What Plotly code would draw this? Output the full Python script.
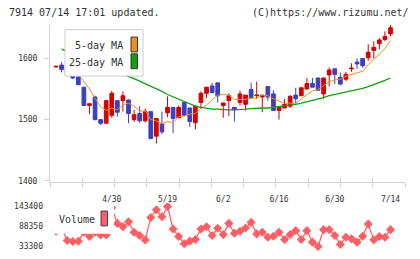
import plotly.graph_objects as go
import numpy as np

# ---------------- data ----------------
tick_labels = ['4/30', '5/19', '6/2', '6/16', '6/30', '7/14']
tick_index = [10, 20, 30, 40, 50, 60]

opens = [1586, 1589, 1586, 1577, 1570, 1553, 1523, 1537, 1500, 1494,
         1507, 1531, 1531, 1532, 1500, 1510, 1498, 1513, 1473, 1493,
         1511, 1520, 1503, 1528, 1519, 1495, 1528, 1543, 1555, 1560,
         1523, 1531, 1520, 1528, 1525, 1549, 1539, 1537, 1554, 1542,
         1515, 1519, 1522, 1540, 1539, 1550, 1559, 1568, 1542, 1573,
         1583, 1569, 1566, 1583, 1594, 1600, 1601, 1613, 1624, 1631,
         1640]
highs = [1588, 1594, 1589, 1583, 1574, 1553, 1526, 1539, 1501, 1531,
         1547, 1531, 1546, 1533, 1516, 1522, 1518, 1513, 1502, 1513,
         1538, 1520, 1523, 1529, 1519, 1522, 1546, 1553, 1560, 1560,
         1528, 1543, 1520, 1547, 1540, 1560, 1562, 1540, 1554, 1548,
         1520, 1534, 1540, 1552, 1552, 1568, 1568, 1568, 1568, 1585,
         1583, 1577, 1578, 1592, 1600, 1600, 1623, 1628, 1633, 1644,
         1655]
lows = [1585, 1577, 1574, 1566, 1557, 1523, 1509, 1499, 1491, 1494,
        1503, 1505, 1513, 1494, 1496, 1495, 1495, 1468, 1461, 1476,
        1504, 1478, 1503, 1505, 1488, 1484, 1518, 1535, 1543, 1528,
        1503, 1506, 1497, 1523, 1515, 1534, 1534, 1512, 1531, 1515,
        1500, 1519, 1519, 1527, 1539, 1550, 1553, 1548, 1534, 1554,
        1558, 1556, 1563, 1578, 1583, 1585, 1596, 1600, 1615, 1628,
        1636]
closes = [1587, 1582, 1575, 1568, 1557, 1523, 1526, 1500, 1494, 1531,
          1543, 1512, 1539, 1510, 1508, 1498, 1513, 1469, 1502, 1480,
          1520, 1502, 1520, 1507, 1497, 1522, 1543, 1553, 1544, 1539,
          1527, 1539, 1516, 1542, 1540, 1536, 1540, 1540, 1537, 1515,
          1520, 1525, 1538, 1534, 1552, 1559, 1553, 1548, 1568, 1581,
          1574, 1558, 1574, 1584, 1591, 1588, 1610, 1618, 1630, 1636,
          1650]

ma5 = [None, None, None, None, 1574, 1562, 1550, 1535, 1521, 1515,
       1519, 1516, 1524, 1527, 1522, 1514, 1514, 1500, 1498, 1493,
       1497, 1495, 1505, 1506, 1509, 1510, 1518, 1524, 1532, 1540,
       1541, 1540, 1533, 1533, 1533, 1535, 1535, 1540, 1539, 1534,
       1530, 1527, 1527, 1526, 1534, 1541, 1547, 1549, 1556, 1562,
       1565, 1566, 1571, 1574, 1576, 1579, 1590, 1598, 1607, 1616,
       1629]
ma25 = [None, 1615, 1611, 1607, 1603, 1599, 1595, 1591, 1587, 1583,
        1580, 1577, 1574, 1571, 1567, 1563, 1559, 1555, 1550, 1546,
        1541, 1537, 1534, 1530, 1526, 1522, 1520, 1518, 1517, 1517,
        1516, 1516, 1516, 1516, 1517, 1518, 1519, 1519, 1519, 1520,
        1521, 1522, 1523, 1525, 1527, 1529, 1532, 1534, 1536, 1539,
        1541, 1543, 1544, 1546, 1549, 1551, 1554, 1557, 1561, 1564,
        1568]
volume = [75000, 84000, 49000, 46200, 47100, 72000, 60000, 72000, 64400, 64400,
          140000, 96600, 87500, 101300, 71800, 62800, 50600, 113100, 134300, 115100,
          143400, 80900, 59900, 39700, 47100, 51700, 81000, 87400, 62700, 82900,
          65400, 96600, 69100, 74600, 83800, 99400, 67300, 71800, 58100, 60800,
          71800, 51700, 65400, 76400, 51700, 76400, 44300, 32400, 79200, 79200,
          62700, 37900, 58100, 53500, 44300, 60800, 94800, 50700, 59900, 58100,
          79200]
price_ticks = [1400, 1500, 1600]
volume_ticks = [33300, 88350, 143400]

# ---------------- styling ----------------
W, H = 420, 259
RED = '#d20000'
BLUE = '#3c3fbe'
ORANGE = '#f0901c'
GREEN = '#10a010'
VOLC = '#ff5f64'
AXC = '#d4d4d4'
TXT = '#333333'
FONT = 'DejaVu Sans Mono'


def px(v):
    return v / W


def py(v):
    return 1 - v / H


xs = list(range(len(opens)))
xr = [-1.08, 62.6]
xdom = [px(50), px(405)]
grid_ticks = list(np.linspace(xr[0], xr[1], 12))

fig = go.Figure()
fig.add_trace(go.Candlestick(
    x=xs, open=opens, high=highs, low=lows, close=closes,
    increasing=dict(line=dict(color=RED, width=1), fillcolor=RED),
    decreasing=dict(line=dict(color=BLUE, width=1), fillcolor=BLUE),
    whiskerwidth=0, showlegend=False, hoverinfo='skip',
    xaxis='x', yaxis='y'))
fig.add_trace(go.Scatter(x=xs, y=ma5, mode='lines',
                         line=dict(color=ORANGE, width=1),
                         showlegend=False, hoverinfo='skip', xaxis='x', yaxis='y'))
fig.add_trace(go.Scatter(x=xs, y=ma25, mode='lines',
                         line=dict(color=GREEN, width=1.3),
                         showlegend=False, hoverinfo='skip', xaxis='x', yaxis='y'))
fig.add_trace(go.Scatter(x=xs, y=volume, mode='lines+markers',
                         line=dict(color=VOLC, width=1.3),
                         marker=dict(symbol='diamond', size=7, color=VOLC),
                         showlegend=False, hoverinfo='skip', xaxis='x4', yaxis='y2'))
# invisible carriers so the overlay axes (labels / inner ticks) get drawn
for ax in ('x2', 'x3'):
    fig.add_trace(go.Scatter(x=[xs[0]], y=[closes[0]], mode='markers',
                             marker=dict(opacity=0, size=1), showlegend=False,
                             hoverinfo='skip', xaxis=ax, yaxis='y'))

shapes = [
    # MA legend box
    dict(type='rect', xref='paper', yref='paper', layer='above',
         x0=px(65), x1=px(143), y0=py(77), y1=py(30),
         fillcolor='white', line=dict(color='#cccccc', width=1)),
    dict(type='rect', xref='paper', yref='paper', layer='above',
         x0=px(131), x1=px(137.5), y0=py(52.5), y1=py(37.5),
         fillcolor=ORANGE, line=dict(color='#333333', width=1)),
    dict(type='rect', xref='paper', yref='paper', layer='above',
         x0=px(131), x1=px(137.5), y0=py(69.5), y1=py(54.5),
         fillcolor=GREEN, line=dict(color='#333333', width=1)),
    # volume legend box
    dict(type='rect', xref='paper', yref='paper', layer='above',
         x0=px(52), x1=px(114), y0=py(236.5), y1=py(206),
         fillcolor='white', line=dict(width=0)),
    dict(type='rect', xref='paper', yref='paper', layer='above',
         x0=px(101), x1=px(107.5), y0=py(228.5), y1=py(213.5),
         fillcolor=VOLC, line=dict(color='#444444', width=1)),
]

annotations = [
    dict(text='7914 07/14 17:01 updated.', xref='paper', yref='paper',
         x=px(7), y=py(12.5), xanchor='left', yanchor='middle', showarrow=False,
         font=dict(family=FONT, size=10, color=TXT)),
    dict(text='(C)https://www.rizumu.net/', xref='paper', yref='paper',
         x=px(411), y=py(12.5), xanchor='right', yanchor='middle', showarrow=False,
         font=dict(family=FONT, size=10, color=TXT)),
    dict(text='5-day MA', xref='paper', yref='paper',
         x=px(124.5), y=py(46), xanchor='right', yanchor='middle', showarrow=False,
         font=dict(family=FONT, size=10, color=TXT)),
    dict(text='25-day MA', xref='paper', yref='paper',
         x=px(124.5), y=py(63), xanchor='right', yanchor='middle', showarrow=False,
         font=dict(family=FONT, size=10, color=TXT)),
    dict(text='Volume', xref='paper', yref='paper',
         x=px(57), y=py(222.5), xanchor='left', yanchor='middle', showarrow=False,
         font=dict(family=FONT, size=10, color=TXT)),
]

fig.update_layout(
    width=W, height=H, margin=dict(l=0, r=0, t=0, b=0),
    paper_bgcolor='white', plot_bgcolor='white',
    boxgap=0.05, showlegend=False,
    font=dict(family=FONT, size=8, color=TXT),
    shapes=shapes, annotations=annotations,
    xaxis=dict(domain=xdom, range=xr, anchor='y', showline=True, linecolor=AXC,
               linewidth=1, ticks='outside', ticklen=4, tickcolor=AXC,
               tickvals=grid_ticks, showticklabels=False, showgrid=False,
               zeroline=False, rangeslider=dict(visible=False)),
    xaxis2=dict(domain=xdom, range=xr, anchor='y', overlaying='x', side='bottom',
                tickvals=tick_index, ticktext=tick_labels, ticks='',
                showline=False, showgrid=False, zeroline=False,
                tickfont=dict(family=FONT, size=8, color=TXT),
                ticklabelstandoff=11),
    xaxis3=dict(domain=xdom, range=xr, anchor='y', overlaying='x', side='bottom',
                tickvals=grid_ticks, ticks='inside', ticklen=4, tickcolor=AXC,
                showticklabels=False, showline=False, showgrid=False, zeroline=False),
    xaxis4=dict(domain=xdom, range=xr, anchor='y2', visible=False),
    yaxis=dict(domain=[py(184.5), py(25)], range=[1397.5, 1655], anchor='x',
               tickvals=price_ticks, ticks='outside', ticklen=5, tickcolor=AXC,
               showline=True, linecolor=AXC, linewidth=1, showgrid=False,
               zeroline=False, tickfont=dict(family=FONT, size=8, color=TXT),
               ticklabelstandoff=5),
    yaxis2=dict(domain=[py(255), py(205)], range=[16785, 154410], anchor='x4',
                tickvals=volume_ticks, ticktext=[str(v) for v in volume_ticks],
                ticks='', showline=False, showgrid=False, zeroline=False,
                tickfont=dict(family=FONT, size=8, color=TXT),
                ticklabelstandoff=6),
)

fig.write_html('out.html')
